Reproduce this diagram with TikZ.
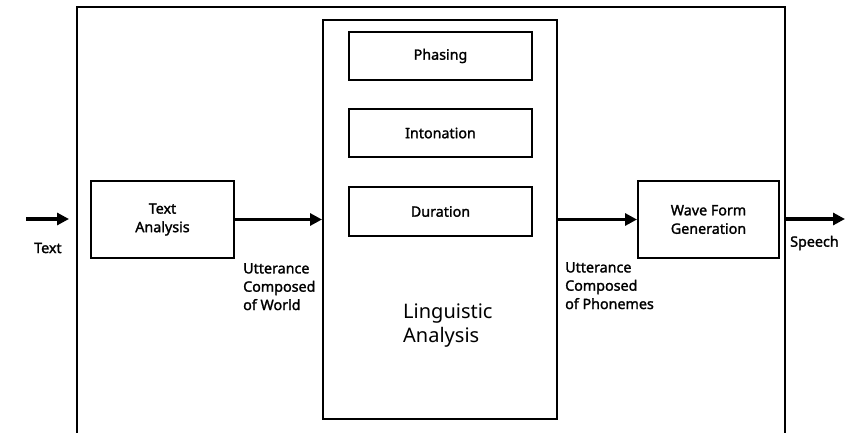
\documentclass[tikz,border=0pt]{standalone}
\usepackage{fontspec}
\setmainfont[AutoFakeBold=1.6]{Noto Sans}
\usetikzlibrary{arrows.meta}
\begin{document}
\begin{tikzpicture}[x=1pt,y=-1pt,
  box/.style={draw,line width=2pt,inner sep=0pt},
  flow/.style={line width=3.4pt,-{Triangle[length=12pt,width=12pt]}},
  lbl/.style={font=\fontsize{14.3}{18.3}\selectfont\bfseries,align=left,inner sep=0pt},
  boxtext/.style={font=\fontsize{14.3}{18.5}\selectfont\bfseries,align=center}]
\useasboundingbox (0,0) rectangle (859,433);
% outer frame, open at the bottom
\draw[line width=2.2pt] (77,433) -- (77,7) -- (785,7) -- (785,433);
% blocks
\node[box,minimum width=143pt,minimum height=77pt] (ta) at (162.5,219.5) {};
\node[boxtext] at (ta) {Text\\Analysis};
\node[box,minimum width=234pt,minimum height=399pt] (la) at (440,219.5) {};
\node[box,minimum width=183pt,minimum height=48pt] (ph) at (440.5,56) {};
\node[boxtext] at (ph) {Phasing};
\node[box,minimum width=183pt,minimum height=48pt] (in) at (440.5,133) {};
\node[boxtext] at (in) {Intonation};
\node[box,minimum width=183pt,minimum height=49pt] (du) at (440.5,211.5) {};
\node[boxtext] at (du) {Duration};
\node[font=\fontsize{20}{24}\selectfont,align=left,anchor=north west,inner sep=0pt] (lt) at (403,304) {Linguistic\\Analysis};
\node[box,minimum width=141pt,minimum height=77pt] (wf) at (708.5,219.5) {};
\node[boxtext] at (wf) {Wave Form\\Generation};
% inputs / outputs
\coordinate (in0) at (26,219);
\coordinate (in1) at (69,219);
\coordinate (out0) at (785,219);
\coordinate (out1) at (845,219);
\draw[flow] (in0) -- (in1);
\draw[flow] (ta.east) -- (la.west);
\draw[flow] (la.east) -- (wf.west);
\draw[flow] (out0) -- (out1);
% labels
\node[lbl,anchor=west] (lin) at (34,248) {Text};
\node[lbl,anchor=west] (lout) at (790,243) {Speech};
\node[lbl,anchor=north west] (lw) at (243,263) {Utterance\\Composed\\of World};
\node[lbl,anchor=north west] (lp) at (565,262) {Utterance\\Composed\\of Phonemes};
\end{tikzpicture}
\end{document}
